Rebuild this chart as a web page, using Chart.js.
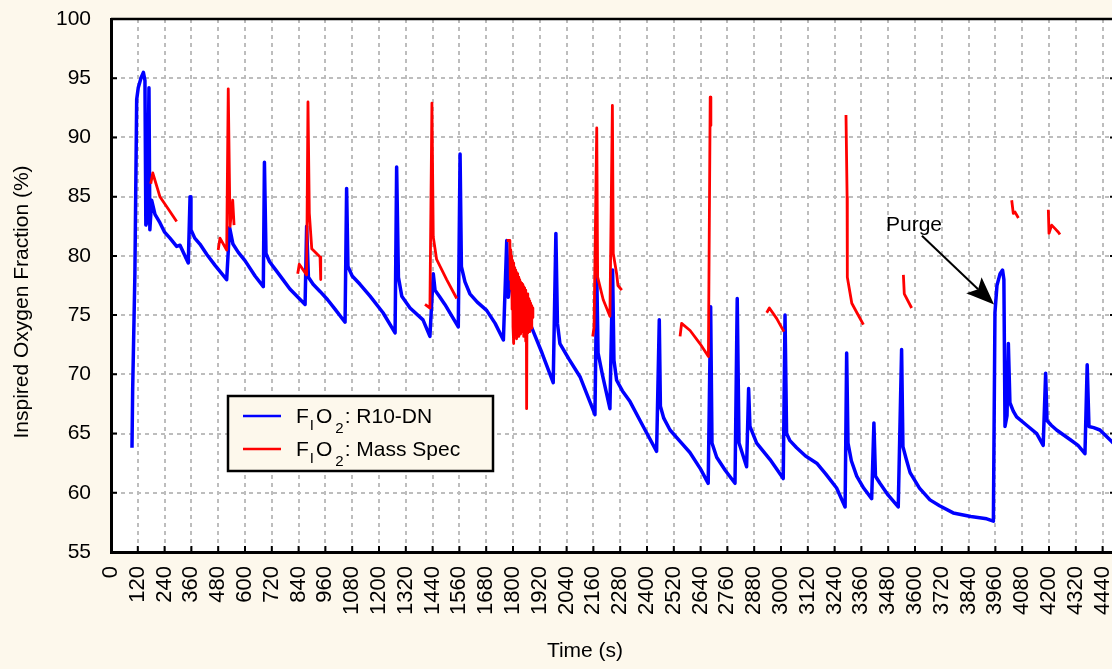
<!DOCTYPE html>
<html>
<head>
<meta charset="utf-8">
<script src="https://cdn.jsdelivr.net/npm/chart.js@4/dist/chart.umd.min.js"></script>
<style>
  html, body { margin: 0; padding: 0; background: #FDF8EC; overflow: hidden; }
  #wrap { width: 1112px; height: 669px; overflow: hidden; position: relative; }
  canvas { display: block; }
</style>
</head>
<body>
<div id="wrap"><canvas id="c" width="1120" height="669" style="width:1120px;height:669px"></canvas></div>
<script>
// ---- data ----
const xTickValues = [0,120,240,360,480,600,720,840,960,1080,1200,1320,1440,1560,1680,1800,1920,2040,2160,2280,2400,2520,2640,2760,2880,3000,3120,3240,3360,3480,3600,3720,3840,3960,4080,4200,4320,4440];
const yTickValues = [55,60,65,70,75,80,85,90,95,100];

const blueTime = [94,97,107,115,122,134,145,152,156,163,170,174,182,197,219,240,264,294,309,346,354,358,375,398,430,466,518,531,546,570,600,645,682,687,694,710,734,770,801,869,876,884,905,936,970,1003,1048,1055,1061,1080,1115,1160,1218,1272,1279,1287,1302,1339,1397,1428,1443,1451,1470,1495,1555,1563,1569,1585,1607,1640,1682,1720,1757,1772,1779,1791,1817,1845,1876,1930,1980,1992,1999,2010,2050,2100,2167,2175,2181,2200,2234,2246,2252,2264,2290,2324,2383,2443,2455,2460,2475,2503,2550,2592,2640,2674,2685,2691,2712,2750,2794,2804,2812,2846,2855,2861,2891,2951,3010,3018,3025,3040,3070,3110,3160,3200,3249,3287,3294,3300,3315,3339,3370,3406,3416,3423,3443,3480,3525,3540,3546,3560,3578,3620,3667,3710,3771,3850,3921,3951,3958,3967,3981,3992,3998,4003,4012,4018,4025,4040,4055,4100,4145,4174,4185,4191,4210,4234,4294,4330,4361,4371,4379,4400,4428,4482,4500];
const blueFiO2 = [63.8,68.7,78.5,93.2,94.2,95.0,95.5,94.8,82.6,83.0,94.2,82.2,84.7,83.5,82.8,82.0,81.5,80.8,80.9,79.4,85.0,82.2,81.5,81.0,80.1,79.2,78.0,82.4,81.0,80.3,79.6,78.3,77.4,87.9,80.2,79.5,78.9,78.0,77.2,75.9,82.5,78.2,77.6,77.0,76.3,75.5,74.4,85.7,79.1,78.3,77.6,76.6,75.2,73.5,87.5,78.2,76.6,75.6,74.6,73.2,78.5,77.1,76.6,75.9,74.0,88.6,79.1,77.8,76.8,76.1,75.4,74.3,72.9,81.3,76.5,78.0,76.3,75.4,74.3,71.8,69.3,81.9,74.3,72.6,71.3,69.8,66.6,78.5,71.8,70.0,67.1,78.8,71.2,69.5,68.6,67.7,65.6,63.5,74.6,67.3,66.3,65.3,64.3,63.4,62.0,60.8,75.7,64.2,63.0,61.9,60.8,76.4,64.2,62.2,68.8,65.6,64.2,62.8,61.2,75.0,65.0,64.4,63.8,63.1,62.5,61.6,60.4,58.8,71.8,64.2,62.7,61.4,60.4,59.5,65.9,61.4,60.8,59.8,58.8,72.1,63.9,62.9,61.7,60.4,59.4,58.9,58.3,58.0,57.8,57.6,75.2,77.5,78.5,78.8,78.0,65.6,66.5,72.6,67.6,66.9,66.4,65.7,65.0,64.0,70.1,66.1,65.7,65.3,64.5,64.0,63.3,70.8,65.6,65.5,65.3,64.3,64.0];

// null values mark the gaps between the mass-spec sampling periods
const redTime = [178,187,219,255,294, 400, 480,488,518,525,533,545,551, 700, 836,843,876,882,888,899,936,939, 1200, 1406,1428,1437,1443,1458,1503,1548, 1700,
  1772,1786,1788,1790,1792,1794,1796,1798,1800,1802,1804,1806,1808,1810,1812,1814,1816,1818,1820,1822,1824,1826,1828,1830,1832,1834,1836,1838,1840,1842,1844,1846,1848,1850,1852,1854,1856,1858,1860,1861,1863,1865,1867,1869,1871,1873,1875,1877,1879,1881,1883,1885,1887,1889,
  2000, 2157,2163,2175,2179,2204,2234,2245,2249,2264,2270,2287, 2400, 2548,2555,2593,2637,2675,2683,2686, 2800, 2936,2948,2981,3013, 3150, 3291,3296,3297,3317,3340,3369, 3450, 3548,3552,3585, 3800, 4033,4040,4048,4063, 4120, 4197,4200,4212,4227,4242,4249];
const redFiO2 = [86.1,87.0,85.0,84.0,82.9, null, 80.5,81.5,80.5,94.1,82.5,84.7,82.6, null, 78.5,79.3,78.4,93.0,83.6,80.6,79.9,78.0, null, 75.9,75.6,92.9,81.6,79.7,78.0,76.4, null,
  81.3,81.3,78.0,80.5,77.2,80.0,75.5,79.6,74.0,79.4,72.6,79.0,73.5,78.8,74.5,78.6,73.0,78.5,75.0,78.3,73.2,78.2,74.2,78.0,73.4,77.8,75.2,77.7,73.6,77.6,74.0,77.4,73.2,77.3,74.6,77.1,72.8,77.0,73.8,67.1,76.8,73.5,76.6,74.2,76.4,73.6,76.2,74.4,76.0,73.9,75.8,74.6,75.6,74.8,
  null, 73.2,74.0,90.8,78.2,76.3,74.9,92.7,80.2,78.5,77.5,77.1, null, 73.2,74.3,73.7,72.6,71.5,93.4,91.0, null, 75.2,75.6,74.7,73.6, null, 91.9,85.0,78.2,76.0,75.2,74.2, null, 78.4,76.8,75.6, null, 84.7,83.6,83.7,83.2, null, 83.9,81.9,82.6,82.3,82.0,81.8];

const seriesNames = ['R10-DN', 'Mass Spec'];
const purgeLabel = 'Purge';
const purgeText = {x: 3470, y: 82.1};
const purgeArrowFrom = {x: 3631, y: 81.7};
const purgeArrowTo = {x: 3954, y: 75.9};

// ---- chart ----
const FONT = "'Liberation Sans', Arial, sans-serif";
const CREAM = '#FDF8EC';

const decor = {
  id: 'decor',
  beforeDraw(chart) {
    const ctx = chart.ctx, a = chart.chartArea;
    ctx.save();
    ctx.fillStyle = CREAM;
    ctx.fillRect(0, 0, chart.width, chart.height);
    ctx.fillStyle = '#FFFFFF';
    ctx.fillRect(a.left, a.top, a.right - a.left, a.bottom - a.top);
    ctx.restore();
  },
  afterDraw(chart) {
    const ctx = chart.ctx, a = chart.chartArea;
    const xs = chart.scales.x, ys = chart.scales.y;
    ctx.save();
    ctx.strokeStyle = '#000'; ctx.lineWidth = 2.5;
    ctx.beginPath();
    ctx.moveTo(a.left, a.top); ctx.lineTo(a.right, a.top); ctx.lineTo(a.right, a.bottom);
    ctx.stroke();
    ctx.lineWidth = 2;
    ctx.beginPath();
    yTickValues.forEach(v => {
      const y = ys.getPixelForValue(v);
      ctx.moveTo(a.left, y); ctx.lineTo(a.left + 6, y);
      ctx.moveTo(a.right, y); ctx.lineTo(a.right - 6, y);
    });
    xTickValues.forEach(v => {
      const x = xs.getPixelForValue(v);
      ctx.moveTo(x, a.bottom); ctx.lineTo(x, a.bottom - 6);
    });
    ctx.stroke();

    // legend
    const lx = 228, ly = 396, lw = 265, lh = 75;
    ctx.fillStyle = CREAM;
    ctx.fillRect(lx, ly, lw, lh);
    ctx.strokeStyle = '#000'; ctx.lineWidth = 2.5;
    ctx.strokeRect(lx, ly, lw, lh);
    const rows = [{c: '#0000FF', name: seriesNames[0], y: 416}, {c: '#FF0000', name: seriesNames[1], y: 449}];
    rows.forEach(r => {
      ctx.strokeStyle = r.c; ctx.lineWidth = 2.5;
      ctx.beginPath(); ctx.moveTo(243, r.y); ctx.lineTo(281, r.y); ctx.stroke();
      const base = r.y + 7;
      let x = 296;
      ctx.fillStyle = '#000';
      ctx.textBaseline = 'alphabetic'; ctx.textAlign = 'left';
      ctx.font = '21px ' + FONT;
      ctx.fillText('F', x, base); x += ctx.measureText('F').width + 1;
      ctx.font = '15px ' + FONT;
      ctx.fillText('I', x, base + 7); x += ctx.measureText('I').width + 2;
      ctx.font = '21px ' + FONT;
      ctx.fillText('O', x, base); x += ctx.measureText('O').width + 3;
      ctx.font = '15px ' + FONT;
      ctx.fillText('2', x, base + 10); x += ctx.measureText('2').width + 1;
      ctx.font = '21px ' + FONT;
      ctx.fillText(': ' + r.name, x, base);
    });

    // purge annotation
    ctx.fillStyle = '#000';
    ctx.font = '21px ' + FONT;
    ctx.textAlign = 'left'; ctx.textBaseline = 'alphabetic';
    ctx.fillText(purgeLabel, xs.getPixelForValue(purgeText.x), ys.getPixelForValue(purgeText.y));
    const x1 = xs.getPixelForValue(purgeArrowFrom.x), y1 = ys.getPixelForValue(purgeArrowFrom.y);
    const x2 = xs.getPixelForValue(purgeArrowTo.x), y2 = ys.getPixelForValue(purgeArrowTo.y);
    const ang = Math.atan2(y2 - y1, x2 - x1);
    const headLen = 30, back = 22, spread = 0.38;
    ctx.strokeStyle = '#000'; ctx.lineWidth = 2;
    ctx.beginPath(); ctx.moveTo(x1, y1);
    ctx.lineTo(x2 - Math.cos(ang) * back, y2 - Math.sin(ang) * back); ctx.stroke();
    ctx.beginPath();
    ctx.moveTo(x2, y2);
    ctx.lineTo(x2 - headLen * Math.cos(ang - spread), y2 - headLen * Math.sin(ang - spread));
    ctx.lineTo(x2 - back * Math.cos(ang), y2 - back * Math.sin(ang));
    ctx.lineTo(x2 - headLen * Math.cos(ang + spread), y2 - headLen * Math.sin(ang + spread));
    ctx.closePath(); ctx.fill();

    // axis titles
    ctx.font = '21px ' + FONT;
    ctx.textAlign = 'center'; ctx.textBaseline = 'middle';
    ctx.fillText('Time (s)', 585, 651);
    ctx.translate(22, 302);
    ctx.rotate(-Math.PI / 2);
    ctx.fillText('Inspired Oxygen Fraction (%)', 0, 0);
    ctx.restore();
  }
};

new Chart(document.getElementById('c'), {
  type: 'scatter',
  data: {
    datasets: [
      {
        label: seriesNames[0],
        data: blueTime.map((t, i) => ({x: t, y: blueFiO2[i]})),
        showLine: true, borderColor: '#0000FF', borderWidth: 3.5,
        pointRadius: 0, tension: 0, order: 2, spanGaps: false,
        borderJoinStyle: 'round'
      },
      {
        label: seriesNames[1],
        data: redTime.map((t, i) => ({x: t, y: redFiO2[i]})),
        showLine: true, borderColor: '#FF0000', borderWidth: 2.8,
        pointRadius: 0, tension: 0, order: 1, spanGaps: false,
        borderJoinStyle: 'round'
      }
    ]
  },
  options: {
    responsive: false,
    animation: false,
    events: [],
    layout: { padding: { left: 0, top: 19, right: 4, bottom: 0 } },
    plugins: { legend: { display: false }, tooltip: { enabled: false }, title: { display: false } },
    scales: {
      x: {
        type: 'linear', min: 0, max: 4500,
        afterBuildTicks: s => { s.ticks = xTickValues.map(v => ({value: v})); },
        afterFit: s => { s.height = 669 - 552; s.paddingLeft = 0; s.paddingRight = 0; },
        ticks: { minRotation: 90, maxRotation: 90, autoSkip: false, padding: 14, color: '#000',
                 font: { family: FONT, size: 22 }, callback: v => String(v) },
        grid: { color: '#BDBDBD', lineWidth: 2, drawTicks: false },
        border: { display: true, color: '#000', width: 3, dash: [4, 4] },
        title: { display: false }
      },
      y: {
        type: 'linear', min: 55, max: 100,
        afterBuildTicks: s => { s.ticks = yTickValues.map(v => ({value: v})); },
        afterFit: s => { s.width = 111; s.paddingTop = 0; s.paddingBottom = 0; },
        ticks: { padding: 20, color: '#000', font: { family: FONT, size: 21 }, callback: v => String(v) },
        grid: { color: '#BDBDBD', lineWidth: 2, drawTicks: false },
        border: { display: true, color: '#000', width: 3, dash: [4, 4] },
        title: { display: false }
      }
    }
  },
  plugins: [decor]
});
</script>
</body>
</html>
